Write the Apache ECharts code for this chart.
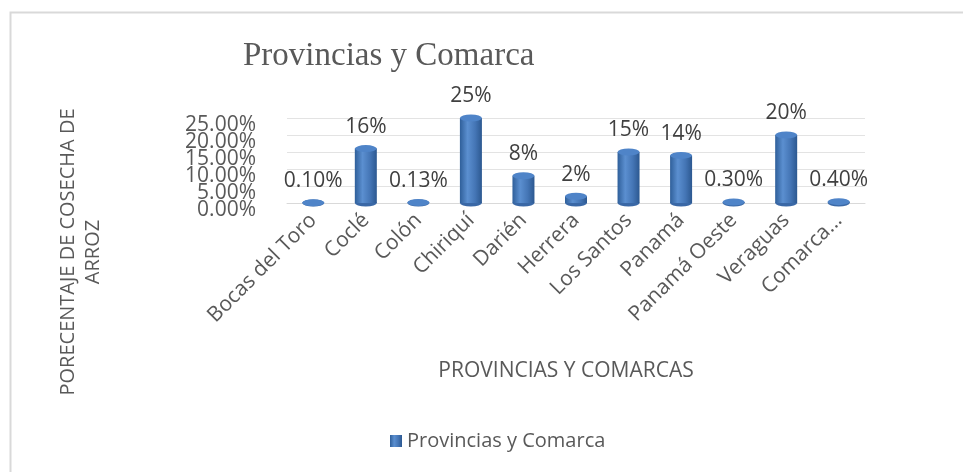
<!DOCTYPE html>
<html>
<head>
<meta charset="utf-8">
<script src="https://cdn.jsdelivr.net/npm/echarts@6/dist/echarts.min.js"></script>
<style>
  html, body { margin: 0; padding: 0; background: #fff; }
  #chart { width: 963px; height: 472px; }
</style>
</head>
<body>
<div id="chart"></div>
<script>
// datos
var categorias = ["Bocas del Toro", "Coclé", "Colón", "Chiriquí", "Darién", "Herrera",
  "Los Santos", "Panamá", "Panamá Oeste", "Veraguas", "Comarca..."];
var porcentajes = [0.1, 16, 0.13, 25, 8, 2, 15, 14, 0.3, 20, 0.4];
var etiquetas = ["0.10%", "16%", "0.13%", "25%", "8%", "2%", "15%", "14%", "0.30%", "20%", "0.40%"];

var gris = "#595959";
var fuente = "Open Sans";
var anchoBarra = 22;

var myChart = echarts.init(document.getElementById("chart"));

// gradiente para simular el cilindro
var cuerpo = new echarts.graphic.LinearGradient(0, 0, 1, 0, [
  { offset: 0, color: "#2f5f9a" },
  { offset: 0.35, color: "#5b8fd0" },
  { offset: 0.7, color: "#4475b5" },
  { offset: 1, color: "#2c5890" }
]);

// las etiquetas del eje Y se tocan, así que se reparten en dos ejes iguales
// (uno con 0,10,20 y otro con 5,15,25) para que ECharts no oculte ninguna
function ejeY(pares) {
  return {
    type: "value",
    position: "left",
    min: 0,
    max: 25,
    interval: 5,
    axisLine: { show: false },
    axisTick: { show: false },
    splitLine: { show: pares, lineStyle: { color: "#e3e3e3" } },
    axisLabel: {
      margin: 31,
      showMinLabel: true,
      showMaxLabel: true,
      fontFamily: fuente,
      fontSize: 21,
      lineHeight: 14,
      verticalAlign: "top",
      color: gris,
      formatter: function(v) {
        var esPar = Math.round(v / 5) % 2 === 0;
        return esPar === pares ? v.toFixed(2) + "%" : "";
      }
    }
  };
}

myChart.setOption({
  animation: false,
  title: {
    text: "Provincias y Comarca",
    left: 238,
    top: 35,
    textStyle: {
      fontFamily: "Liberation Serif",
      fontSize: 33,
      fontWeight: "normal",
      color: gris
    }
  },
  legend: {
    left: 385,
    top: 426,
    icon: "rect",
    itemWidth: 12,
    itemHeight: 12,
    itemGap: 6,
    data: ["Provincias y Comarca"],
    textStyle: { fontFamily: fuente, fontSize: 20, color: gris }
  },
  graphic: [
    {
      type: "rect",
      shape: { x: 10.5, y: 12.5, width: 1000, height: 1000 },
      style: { fill: "none", stroke: "#d9d9d9", lineWidth: 2 },
      silent: true
    },
    {
      type: "text",
      x: 81,
      y: 252,
      rotation: Math.PI / 2,
      style: {
        text: "PORECENTAJE DE COSECHA DE\nARROZ",
        fontFamily: fuente,
        fontSize: 20,
        fill: gris,
        align: "center",
        verticalAlign: "middle",
        lineHeight: 25
      }
    }
  ],
  grid: {
    left: 287,
    right: 98,
    top: 118,
    bottom: 269
  },
  xAxis: {
    type: "category",
    data: categorias,
    name: "PROVINCIAS Y COMARCAS",
    nameLocation: "middle",
    nameGap: 158,
    nameTextStyle: { fontFamily: fuente, fontSize: 21, color: gris, padding: [0, 20, 0, 0] },
    axisLine: { lineStyle: { color: "#d9d9d9" } },
    axisTick: { show: false },
    axisLabel: {
      rotate: 45,
      interval: 0,
      margin: 14,
      fontFamily: fuente,
      fontSize: 21,
      color: gris
    }
  },
  yAxis: [ejeY(true), ejeY(false)],
  series: [
    {
      name: "Provincias y Comarca",
      type: "bar",
      barWidth: anchoBarra,
      data: porcentajes,
      itemStyle: { color: cuerpo },
      label: {
        show: true,
        position: "top",
        distance: 11,
        fontFamily: fuente,
        fontSize: 21,
        color: "#404040",
        formatter: function(p) {
          return etiquetas[p.dataIndex];
        }
      },
      z: 2
    },
    {
      // base del cilindro
      name: "base",
      type: "pictorialBar",
      symbol: "circle",
      symbolSize: [anchoBarra, 7],
      symbolPosition: "start",
      symbolOffset: [0, "50%"],
      data: porcentajes,
      itemStyle: { color: "#3a68a6" },
      tooltip: { show: false },
      z: 1
    },
    {
      // tapa del cilindro
      name: "tapa",
      type: "pictorialBar",
      symbol: "circle",
      symbolSize: [anchoBarra, 7],
      symbolPosition: "end",
      symbolOffset: [0, "-50%"],
      data: porcentajes,
      itemStyle: { color: "#4f84c8" },
      tooltip: { show: false },
      z: 3
    }
  ]
});
</script>
</body>
</html>
